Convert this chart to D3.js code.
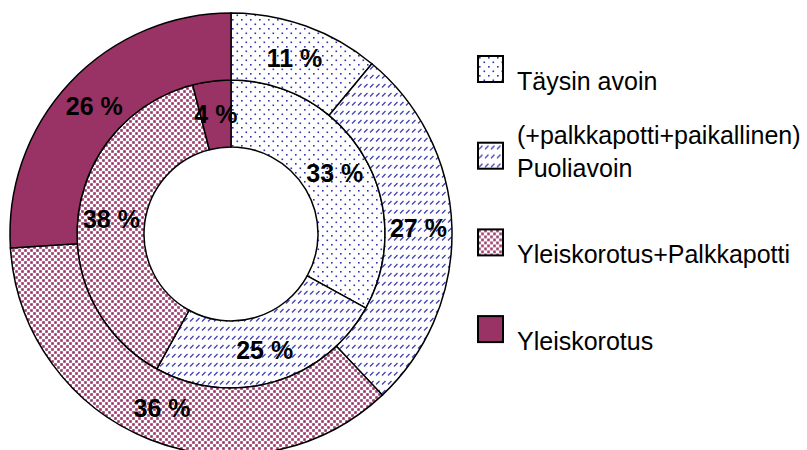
<!DOCTYPE html>
<html>
<head>
<meta charset="utf-8">
<script src="https://cdn.jsdelivr.net/npm/d3@7"></script>
<style>
  body { margin: 0; background: #fff; }
  text { font-family: Arial, "Liberation Sans", sans-serif; }
</style>
</head>
<body>
<script>
// categories and the two rings (inner ring drawn first, outer ring around it)
var categories = ["Täysin avoin", "Puoliavoin", "Yleiskorotus+Palkkapotti", "Yleiskorotus"];
var outerValues = [11, 27, 36, 26];
var innerValues = [33, 25, 38, 4];
var legendLines = [["Täysin avoin"], ["(+palkkapotti+paikallinen)", "Puoliavoin"],
                   ["Yleiskorotus+Palkkapotti"], ["Yleiskorotus"]];

var width = 807, height = 450;
var cx = 231, cy = 234;
var rHole = 87, rMid = 154, rOuter = 221;

var svg = d3.select("body")
            .append("svg")
              .attr("width", width)
              .attr("height", height);

// fill patterns
var defs = svg.append("defs");

var p0 = defs.append("pattern").attr("id", "pat0")
  .attr("patternUnits", "userSpaceOnUse").attr("width", 9).attr("height", 9);
p0.append("rect").attr("width", 9).attr("height", 9).attr("fill", "#fff");
p0.append("rect").attr("x", 1).attr("y", 1).attr("width", 1.6).attr("height", 1.6).attr("fill", "#3030b0");
p0.append("rect").attr("x", 5.5).attr("y", 5.5).attr("width", 1.6).attr("height", 1.6).attr("fill", "#3030b0");

var p1 = defs.append("pattern").attr("id", "pat1")
  .attr("patternUnits", "userSpaceOnUse").attr("width", 6).attr("height", 9);
p1.append("rect").attr("width", 6).attr("height", 9).attr("fill", "#fff");
p1.append("line").attr("x1", 1).attr("y1", 6.5).attr("x2", 4.5).attr("y2", 3)
  .attr("stroke", "#4040b4").attr("stroke-width", 1.3);

var p2 = defs.append("pattern").attr("id", "pat2")
  .attr("patternUnits", "userSpaceOnUse").attr("width", 6).attr("height", 6);
p2.append("rect").attr("width", 6).attr("height", 6).attr("fill", "#fff");
p2.append("rect").attr("x", 0.2).attr("y", 0.2).attr("width", 2.6).attr("height", 2.6).attr("fill", "#993366");
p2.append("rect").attr("x", 3.2).attr("y", 3.2).attr("width", 2.6).attr("height", 2.6).attr("fill", "#993366");

var fills = ["url(#pat0)", "url(#pat1)", "url(#pat2)", "#993366"];
var color = d3.scaleOrdinal().domain(categories).range(fills);

var pie = d3.pie().sort(null).value(function(d) { return d.value; });

function ringData(values) {
  return pie(values.map(function(v, i) { return { cat: categories[i], value: v }; }));
}

var g = svg.append("g")
  .attr("transform", "translate(" + cx + "," + cy + ")");

var rings = [
  { values: innerValues, arc: d3.arc().innerRadius(rHole).outerRadius(rMid) },
  { values: outerValues, arc: d3.arc().innerRadius(rMid).outerRadius(rOuter) }
];

rings.forEach(function(ring) {
  var slices = ringData(ring.values);
  g.append("g").selectAll("path")
    .data(slices)
    .enter()
    .append("path")
      .attr("d", ring.arc)
      .attr("fill", function(d) { return color(d.data.cat); })
      .attr("stroke", "#000")
      .attr("stroke-width", 1.5);

  g.append("g").selectAll("text")
    .data(slices)
    .enter()
    .append("text")
      .attr("transform", function(d) { return "translate(" + ring.arc.centroid(d) + ")"; })
      .attr("text-anchor", "middle")
      .attr("dy", "0.36em")
      .attr("font-size", 25)
      .attr("font-weight", "bold")
      .attr("fill", "#000")
      .text(function(d) { return d.data.value + " %"; });
});

// legend
var legend = svg.append("g").selectAll("g")
  .data(categories)
  .enter()
  .append("g")
    .attr("transform", function(d, i) { return "translate(478," + (56 + i * 86.7) + ")"; });

legend.append("rect")
  .attr("width", 25)
  .attr("height", 26)
  .attr("fill", function(d) { return color(d); })
  .attr("stroke", "#000")
  .attr("stroke-width", 2);

legend.each(function(d, i) {
  var lines = legendLines[i];
  var t = d3.select(this).append("text")
    .attr("x", 39)
    .attr("font-size", 25)
    .attr("fill", "#000");
  lines.forEach(function(line, j) {
    t.append("tspan")
      .attr("x", 39)
      .attr("y", 34 - (lines.length - 1 - j) * 33)
      .text(line);
  });
});
</script>
</body>
</html>
